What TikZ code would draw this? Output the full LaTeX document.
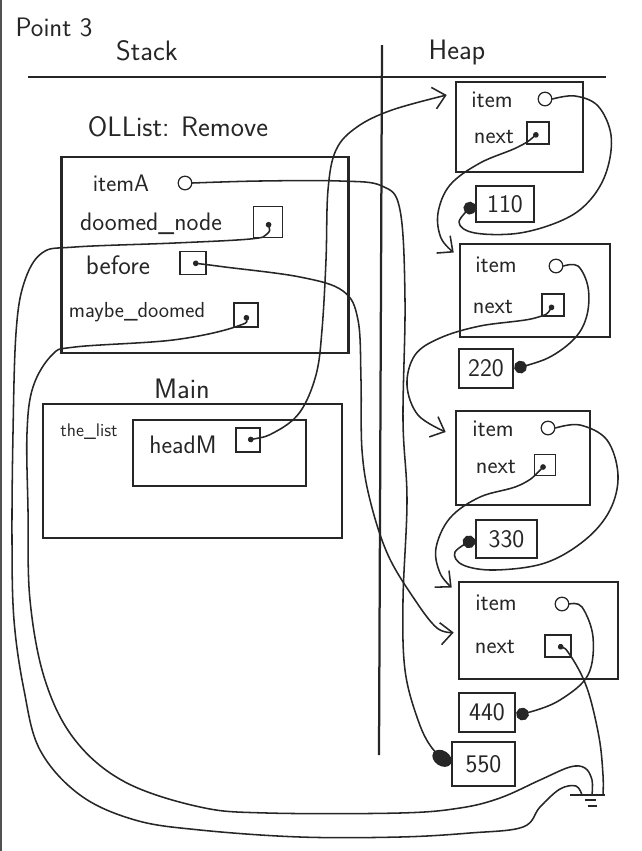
\documentclass[tikz,border=0pt]{standalone}
\usepackage{tikz}
\usetikzlibrary{arrows.meta,positioning,calc}
\definecolor{ink}{RGB}{38,38,38}

\begin{document}
\begin{tikzpicture}[
    x=0.025cm, y=-0.025cm,
    every node/.style={font=\sffamily\fontsize{17}{20}\selectfont, text=ink},
    big/.style={font=\sffamily\fontsize{20}{24}\selectfont},
    frame/.style={draw=ink, line width=1.8pt, inner sep=0pt},
    valbox/.style={draw=ink, line width=1.8pt, inner sep=0pt, font=\sffamily\fontsize{18}{20}\selectfont},
    ptr/.style={draw=ink, line width=0.9pt, minimum size=0.6cm, inner sep=0pt},
    val/.style={draw=ink, circle, line width=0.9pt, minimum size=0.34cm, inner sep=0pt},
    link/.style={draw=ink, line width=1.1pt, line cap=round, line join=round, smooth, tension=0.6},
    ptrarrow/.style={arrows={Circle[length=1.4mm]-Straight Barb[length=3mm, width=5.5mm]}},
    ptrend/.style={arrows={Circle[length=1.4mm]-}},
    dotend/.style={arrows={-Circle[length=3.2mm]}},
    bigdotend/.style={arrows={-Circle[length=5.2mm, width=3.8mm]}}
  ]
    \useasboundingbox (0,0) rectangle (641,851);
    \draw[ink!80, line width=1pt] (1,0) -- (1,851);

    \node[font=\sffamily\fontsize{19}{22}\selectfont] (title) at (54,27) {Point 3};
    \node[big] (stack) at (147,51) {Stack};
    \node[big] (heap) at (457,52) {Heap};
    \draw[ink, line width=1.6pt] (28,77) -- (606,77);
    \draw[ink, line width=1.6pt] (382,45) -- (379,755);

    % OLList::Remove frame
    \node[big] (fname) at (178,127) {OLList: Remove};
    \node[frame, minimum width=7.175cm, minimum height=4.9cm] (remove) at (205,255) {};
    \node (itemA) at (121,183) {itemA};
    \node[val] (cA) at (185,183) {};
    \node[font=\sffamily\fontsize{18}{20}\selectfont] (doomed) at (151,224) {doomed\_node};
    \node[ptr, minimum width=0.72cm, minimum height=0.78cm] (pD) at (268,222) {};
    \node[font=\sffamily\fontsize{19}{20}\selectfont] (before) at (118,265) {before};
    \node[ptr, minimum width=0.65cm, minimum height=0.57cm] (pB) at (193,263) {};
    \node[font=\sffamily\fontsize{15.5}{18}\selectfont] (maybe) at (137,312) {maybe\_doomed};
    \node[ptr] (pM) at (246,315) {};

    % main frame
    \node[big] (mainlbl) at (182,389) {Main};
    \node[frame, minimum width=7.475cm, minimum height=3.35cm] (main) at (192.5,471) {};
    \node[font=\sffamily\fontsize{13}{15}\selectfont] (thelist) at (89,432) {the\_list};
    \node[frame, minimum width=4.325cm, minimum height=1.65cm] (listobj) at (219.5,453) {};
    \node[font=\sffamily\fontsize{18}{20}\selectfont] (headM) at (183,445) {headM};
    \node[ptr] (pHead) at (248,440) {};

    % heap nodes
    \node[frame, minimum width=3.175cm, minimum height=2.25cm] (n1) at (519.5,127) {};
    \node (n1item) at (492,100) {item};
    \node[val] (n1v) at (545,99) {};
    \node (n1next) at (494,137) {next};
    \node[ptr, minimum size=0.55cm] (n1p) at (538,133) {};
    \node[valbox, minimum width=1.45cm, minimum height=0.9cm] (v110) at (505,204) {110};

    \node[frame, minimum width=3.75cm, minimum height=2.325cm] (n2) at (535,290.5) {};
    \node (n2item) at (496,265) {item};
    \node[val] (n2v) at (556,266) {};
    \node (n2next) at (493,307) {next};
    \node[ptr, minimum size=0.55cm] (n2p) at (553,305) {};
    \node[valbox, minimum width=1.35cm, minimum height=0.975cm] (v220) at (486,368.5) {220};

    \node[frame, minimum width=3.35cm, minimum height=2.35cm] (n3) at (523,458) {};
    \node (n3item) at (493,429) {item};
    \node[val] (n3v) at (548,428) {};
    \node (n3next) at (496,467) {next};
    \node[ptr, minimum size=0.52cm] (n3p) at (545,465) {};
    \node[valbox, minimum width=1.525cm, minimum height=0.95cm] (v330) at (506.5,539) {330};

    \node[frame, minimum width=3.975cm, minimum height=2.425cm] (n4) at (538.5,630.5) {};
    \node (n4item) at (496,603) {item};
    \node[val] (n4v) at (562,604) {};
    \node (n4next) at (495,647) {next};
    \node[ptr, minimum width=0.65cm, minimum height=0.55cm] (n4p) at (558,646) {};
    \node[valbox, minimum width=1.4cm, minimum height=0.975cm] (v440) at (487,712.5) {440};
    \node[valbox, minimum width=1.575cm, minimum height=1.1cm] (v550) at (483.5,764) {550};

    \coordinate (n1in) at ([shift={(-8,-32)}]n1.west);
    \coordinate (n2in) at ([shift={(-5,-38)}]n2.west);
    \coordinate (n3in) at ([shift={(-9,-26)}]n3.west);
    \coordinate (n4in) at ([shift={(-6,-43)}]n4.west);
    \coordinate (n4side) at ([shift={(-4,2)}]n4.west);
    \coordinate (gnd) at (588,795);

    % ground
    \draw[ink, line width=1.1pt] ([shift={(-18,0)}]gnd) -- ([shift={(17,0)}]gnd);
    \draw[ink, line width=1.1pt] ([shift={(-3,5)}]gnd) -- ([shift={(8,5)}]gnd);
    \draw[ink, line width=1.1pt] ([shift={(0,11)}]gnd) -- ([shift={(9,11)}]gnd);

    % pointers
    \draw[link, ptrarrow] plot coordinates {(pHead.center) (275,432) (300,412) (316,375) (322,330) (326,260) (328,190) (336,150) (357,127) (392,110) (n1in)};
    \draw[link, dotend] plot coordinates {(n1v.east) (575,96) (598,106) (611,135) (607,170) (591,199) (565,219) (520,233) (475,233) (459,222) (v110.west)};
    \draw[link, ptrarrow] plot coordinates {(n1p.center) (518,147) (480,163) (450,185) (438,213) (441,238) (n2in)};
    \draw[link, dotend] plot coordinates {(n2v.east) (578,266) (588,287) (587,315) (575,338) (548,358) (v220.east)};
    \draw[link, ptrarrow] plot coordinates {(n2p.center) (535,318) (480,326) (440,338) (415,355) (407,385) (418,415) (n3in)};
    \draw[link, dotend] plot coordinates {(n3v.east) (580,425) (607,440) (618,475) (610,510) (585,540) (545,563) (495,570) (463,565) (455,552) (v330.west)};
    \draw[link, ptrarrow] plot coordinates {(n3p.center) (520,485) (480,497) (450,518) (436,548) (440,573) (n4in)};
    \draw[link, dotend] plot coordinates {(n4v.east) (582,607) (593,637) (588,675) (560,700) (530,712) (v440.east)};
    \draw[link, ptrend] plot coordinates {(n4p.center) (570,655) (587,688) (599,737) (603,775) ([shift={(15,0)}]gnd)};

    \draw[link, bigdotend] plot coordinates {(cA.east) (260,181) (340,181) (382,186) (400,210) (405,300) (403,420) (407,500) (403,600) (405,670) (418,720) (432,748) (v550.west)};
    \draw[link, ptrarrow] plot coordinates {(pB.center) (225,267) (300,277) (343,291) (358,320) (361,380) (362,450) (370,500) (388,555) (415,600) (437,628) (n4side)};
    \draw[link, ptrend] plot coordinates {(pD.center) (267,234) (250,239) (175,243) (75,247) (42,253) (24,283) (16,333) (13,433) (12,540) (14,620) (24,690) (40,750) (80,795) (135,820) (200,830) (300,837) (400,837) (470,833) (523,827) (540,807) (560,789) (576,786) ([shift={(-6,0)}]gnd)};
    \draw[link, ptrend] plot coordinates {(pM.center) (235,327) (173,340) (75,347) (52,355) (33,387) (27,433) (28,510) (30,600) (45,680) (75,740) (125,782) (200,807) (267,813) (400,813) (460,808) (500,798) (540,780) (570,767) (585,768) (592,780) ([shift={(4,0)}]gnd)};
\end{tikzpicture}
\end{document}
